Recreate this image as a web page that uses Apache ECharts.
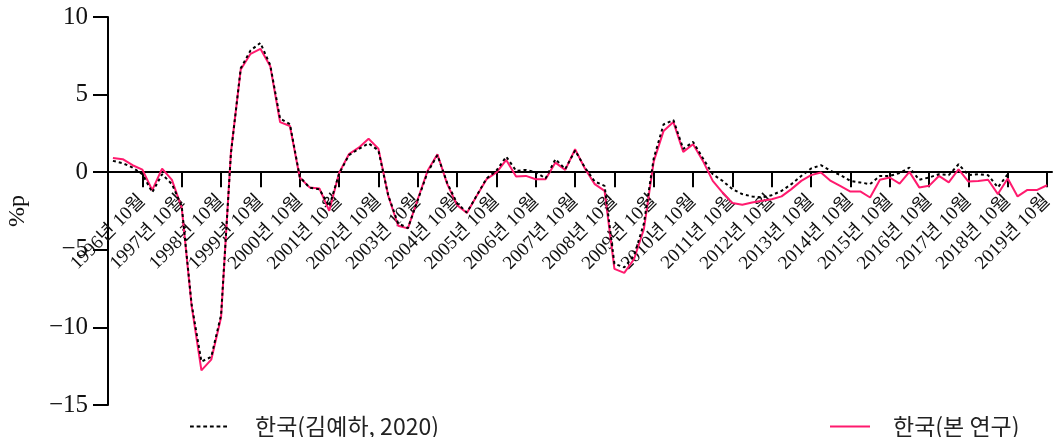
<!DOCTYPE html>
<html>
<head>
<meta charset="utf-8">
<script src="https://cdn.jsdelivr.net/npm/echarts@6/dist/echarts.min.js"></script>
<style>
  html, body { margin: 0; padding: 0; background: #fff; }
  #chart { width: 1056px; height: 437px; }
</style>
</head>
<body>
<div id="chart"></div>
<script>
// Quarterly series, 1996 Q1 – 2019 Q4 (unit: %p)
const years = [];
for (let y = 1996; y <= 2019; y++) years.push(y);
const months = [1, 4, 7, 10];
const categories = [];
years.forEach(y => months.forEach(m => categories.push(y + '년 ' + m + '월')));

// 한국(김예하, 2020): 1996 Q1 – 2018 Q4
const seriesKim = [
  0.73, 0.58, 0.30, -0.13, -1.30, -0.13, -0.77, -2.20,
  -8.50, -12.20, -11.90, -9.20, 1.20, 6.70, 7.85, 8.33,
  6.90, 3.45, 3.10, -0.30, -1.00, -1.10, -2.20, -0.10,
  1.10, 1.50, 1.86, 1.40, -1.50, -3.30, -3.60, -1.80,
  0.00, 1.10, -0.70, -2.00, -2.60, -1.50, -0.40, 0.10,
  1.00, 0.09, 0.15, 0.00, -0.40, 0.84, 0.20, 1.40,
  0.30, -0.60, -0.88, -5.90, -6.13, -5.38, -3.30, 0.90,
  3.08, 3.36, 1.50, 1.95, 0.90, -0.13, -0.56, -1.09,
  -1.41, -1.56, -1.63, -1.48, -1.20, -0.77, -0.24, 0.24,
  0.45, 0.09, -0.19, -0.56, -0.66, -0.77, -0.24, -0.24,
  -0.06, 0.30, -0.49, -0.34, -0.13, -0.19, 0.51, -0.19,
  -0.13, -0.19, -0.98, -0.13
];

// 한국(본 연구): 1996 Q1 – 2019 Q4
const seriesThis = [
  0.92, 0.84, 0.45, 0.17, -1.16, 0.23, -0.49, -2.30,
  -8.60, -12.77, -12.08, -9.34, 1.27, 6.62, 7.63, 7.95,
  6.83, 3.23, 2.98, -0.34, -0.98, -1.05, -2.49, -0.05,
  1.16, 1.58, 2.16, 1.52, -1.52, -3.45, -3.62, -1.74,
  0.09, 1.16, -0.77, -2.12, -2.63, -1.52, -0.45, -0.02,
  0.79, -0.28, -0.24, -0.45, -0.45, 0.62, 0.15, 1.48,
  0.24, -0.77, -1.20, -6.23, -6.49, -5.59, -3.66, 0.70,
  2.66, 3.23, 1.31, 1.80, 0.73, -0.56, -1.31, -1.99,
  -2.10, -1.95, -1.84, -1.74, -1.56, -1.09, -0.56, -0.19,
  -0.02, -0.56, -0.90, -1.25, -1.24, -1.63, -0.49, -0.34,
  -0.73, 0.02, -0.98, -0.88, -0.24, -0.66, 0.19, -0.60,
  -0.56, -0.49, -1.41, -0.41, -1.56, -1.14, -1.14, -0.84
];

const nameKim = '한국(김예하, 2020)';
const nameThis = '한국(본 연구)';
const yTicks = { min: -15, max: 10, step: 5 };

const pink = '#ff1a6e';
const serifFont = '"Liberation Serif", "Noto Sans CJK KR", serif';
const sansFont = '"Noto Sans CJK KR", sans-serif';
const showQ4 = idx => idx % 4 === 3;

// Legend swatches: a row of short dashes, and a solid bar
let dashPath = 'path://';
for (let k = 0; k < 6; k++) dashPath += 'M' + (k * 7) + ',0h4v2h-4z';
const solidPath = 'path://M0,0h40v2h-40z';

const legendText = { fontFamily: sansFont, fontSize: 23, color: '#222' };

const chart = echarts.init(document.getElementById('chart'), null, { renderer: 'canvas' });
chart.setOption({
  animation: false,
  backgroundColor: '#ffffff',
  grid: { left: 108, right: 4, top: 17, bottom: 32, containLabel: false, outerBoundsMode: 'none' },
  legend: [
    {
      data: [{ name: nameKim, icon: dashPath, itemStyle: { color: '#000' } }],
      left: 185, top: 410, itemWidth: 37, itemHeight: 2,
      textStyle: Object.assign({}, legendText, { padding: [0, 0, 0, 23] })
    },
    {
      data: [{ name: nameThis, icon: solidPath, itemStyle: { color: pink } }],
      left: 825, top: 410, itemWidth: 40, itemHeight: 2,
      textStyle: Object.assign({}, legendText, { padding: [0, 0, 0, 18] })
    }
  ],
  xAxis: {
    type: 'category',
    data: categories,
    boundaryGap: true,
    position: 'bottom',
    offset: 0,
    axisLine: { onZero: false, lineStyle: { color: '#000', width: 2 } },
    axisTick: { show: true, alignWithLabel: true, interval: showQ4, length: 15, lineStyle: { color: '#000', width: 2 } },
    axisLabel: {
      interval: showQ4, rotate: 45, margin: 26,
      fontFamily: serifFont, fontSize: 19, color: '#111'
    },
    splitLine: { show: false }
  },
  yAxis: {
    type: 'value',
    min: yTicks.min, max: yTicks.max, interval: yTicks.step,
    name: '%p',
    nameLocation: 'middle',
    nameGap: 78,
    nameRotate: 90,
    nameTextStyle: { fontFamily: serifFont, fontSize: 24, color: '#111' },
    axisLine: { show: true, onZero: false, lineStyle: { color: '#000', width: 2 } },
    axisTick: { show: true, length: 15, lineStyle: { color: '#000', width: 2 } },
    axisLabel: {
      margin: 20, fontFamily: serifFont, fontSize: 25, color: '#111',
      formatter: v => String(v).replace('-', '\u2212')
    },
    splitLine: { show: false }
  },
  series: [
    {
      name: nameThis, type: 'line', data: seriesThis,
      symbol: 'none', z: 2,
      lineStyle: { color: pink, width: 2 },
      itemStyle: { color: pink }
    },
    {
      name: nameKim, type: 'line', data: seriesKim,
      symbol: 'none', z: 3,
      lineStyle: { color: '#000', width: 2, type: [3, 3] },
      itemStyle: { color: '#000' }
    }
  ]
});

// Move the category axis (line, ticks, labels) up to the zero level of the value axis
const zeroY = chart.convertToPixel({ yAxisIndex: 0 }, 0);
const floorY = chart.convertToPixel({ yAxisIndex: 0 }, yTicks.min);
chart.setOption({ xAxis: { offset: zeroY - floorY } });
</script>
</body>
</html>
